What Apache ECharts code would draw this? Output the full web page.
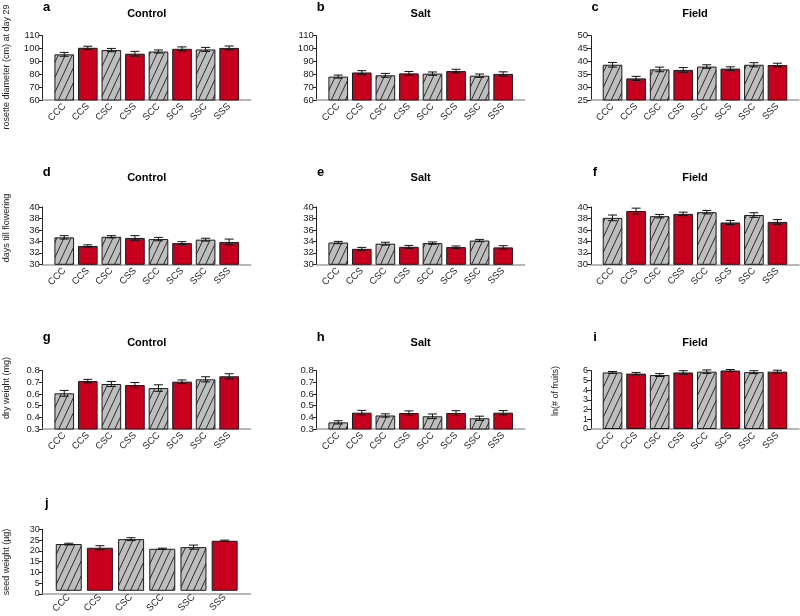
<!DOCTYPE html>
<html>
<head>
<meta charset="utf-8">
<script src="https://cdn.jsdelivr.net/npm/echarts@6/dist/echarts.min.js"></script>
<style>html,body{margin:0;padding:0;background:#fff}#c{width:800px;height:616px}</style>
</head>
<body>
<div id="c"></div>
<script>
// ---------- data ----------
const cats8 = ['CCC','CCS','CSC','CSS','SCC','SCS','SSC','SSS'];
const cats6 = ['CCC','CCS','CSC','SCC','SSC','SSS'];

const rosetteControl    = [95.5, 100.6, 98.8, 96.0, 97.7, 99.8, 99.3, 100.5];
const rosetteControlErr = [1.5, 1.2, 1.3, 1.8, 1.2, 1.5, 1.6, 1.5];
const rosetteSalt       = [78.2, 81.4, 79.2, 80.7, 80.5, 82.5, 78.9, 80.3];
const rosetteSaltErr    = [1.2, 1.4, 1.5, 1.5, 1.3, 1.4, 1.3, 1.6];
const rosetteField      = [38.7, 33.4, 36.9, 36.7, 38.0, 37.2, 38.7, 38.6];
const rosetteFieldErr   = [0.9, 0.8, 0.9, 0.9, 0.7, 0.7, 0.8, 0.7];

const flowerControl     = [34.7, 33.2, 34.8, 34.6, 34.4, 33.7, 34.3, 33.9];
const flowerControlErr  = [0.3, 0.2, 0.2, 0.4, 0.3, 0.25, 0.25, 0.5];
const flowerSalt        = [33.8, 32.7, 33.6, 33.05, 33.7, 33.0, 34.15, 32.95];
const flowerSaltErr     = [0.2, 0.25, 0.25, 0.25, 0.2, 0.2, 0.2, 0.3];
const flowerField       = [38.1, 39.3, 38.4, 38.8, 39.1, 37.3, 38.6, 37.4];
const flowerFieldErr    = [0.5, 0.5, 0.3, 0.3, 0.3, 0.35, 0.4, 0.4];

const dryControl        = [0.606, 0.711, 0.686, 0.677, 0.651, 0.706, 0.726, 0.752];
const dryControlErr     = [0.025, 0.015, 0.022, 0.022, 0.028, 0.015, 0.022, 0.022];
const drySalt           = [0.357, 0.440, 0.416, 0.437, 0.409, 0.437, 0.392, 0.440];
const drySaltErr        = [0.014, 0.020, 0.014, 0.018, 0.020, 0.020, 0.018, 0.018];
const fruitsField       = [5.82, 5.70, 5.55, 5.82, 5.90, 6.02, 5.85, 5.90];
const fruitsFieldErr    = [0.10, 0.12, 0.15, 0.18, 0.18, 0.10, 0.15, 0.15];

const seedWeight        = [22.8, 21.0, 25.2, 20.5, 21.3, 24.4];
const seedWeightErr     = [0.4, 1.0, 0.7, 0.3, 1.0, 0.3];

const yTicks = {
  rosette: {min: 60, max: 110, interval: 10},
  rosetteField: {min: 25, max: 50, interval: 5},
  flower: {min: 30, max: 40, interval: 2},
  dry: {min: 0.3, max: 0.8, interval: 0.1},
  fruits: {min: 0, max: 6, interval: 1},
  seed: {min: 0, max: 30, interval: 5}
};

const panels = [
  {letter:'a', title:'Control', ylabel:'rosette diameter (cm) at day 29', cats:cats8, vals:rosetteControl, errs:rosetteControlErr, ax:yTicks.rosette, row:0, col:0},
  {letter:'b', title:'Salt', ylabel:'', cats:cats8, vals:rosetteSalt, errs:rosetteSaltErr, ax:yTicks.rosette, row:0, col:1},
  {letter:'c', title:'Field', ylabel:'', cats:cats8, vals:rosetteField, errs:rosetteFieldErr, ax:yTicks.rosetteField, row:0, col:2},
  {letter:'d', title:'Control', ylabel:'days till flowering', cats:cats8, vals:flowerControl, errs:flowerControlErr, ax:yTicks.flower, row:1, col:0},
  {letter:'e', title:'Salt', ylabel:'', cats:cats8, vals:flowerSalt, errs:flowerSaltErr, ax:yTicks.flower, row:1, col:1},
  {letter:'f', title:'Field', ylabel:'', cats:cats8, vals:flowerField, errs:flowerFieldErr, ax:yTicks.flower, row:1, col:2},
  {letter:'g', title:'Control', ylabel:'dry weight (mg)', cats:cats8, vals:dryControl, errs:dryControlErr, ax:yTicks.dry, row:2, col:0},
  {letter:'h', title:'Salt', ylabel:'', cats:cats8, vals:drySalt, errs:drySaltErr, ax:yTicks.dry, row:2, col:1},
  {letter:'i', title:'Field', ylabel:'ln(# of fruits)', cats:cats8, vals:fruitsField, errs:fruitsFieldErr, ax:yTicks.fruits, row:2, col:2},
  {letter:'j', title:'', ylabel:'seed weight (\u00b5g)', cats:cats6, vals:seedWeight, errs:seedWeightErr, ax:yTicks.seed, row:3, col:0}
];

// ---------- layout ----------
const colLeft = [42.7, 316.7, 591];
const plotW = 208;
const rowTop = [35.7, 207, 370.7, 529.3];
const rowBottom = [100, 264.3, 429, 594];
const letterY = [7.5, 172, 337, 503];
const titleY = [14, 178, 343, 0];
const ylabelY = [67, 228, 388, 562];
const FONT = '"Liberation Sans", Arial, Helvetica, sans-serif';
const GRAY = '#bebebe';
const RED = '#c8001e';

// hatch pattern
function makeHatch() {
  const w = 7, h = 15;
  const cv = document.createElement('canvas');
  cv.width = w; cv.height = h;
  const ctx = cv.getContext('2d');
  ctx.fillStyle = GRAY; ctx.fillRect(0, 0, w, h);
  ctx.strokeStyle = '#1a1a1a'; ctx.lineWidth = 0.9;
  for (const dx of [-w, 0, w]) {
    ctx.beginPath(); ctx.moveTo(dx, h); ctx.lineTo(dx + w, 0); ctx.stroke();
  }
  return cv;
}
const hatch = makeHatch();

const grid = [], xAxis = [], yAxis = [], series = [], graphic = [];
panels.forEach((p, k) => {
  const L = colLeft[p.col], top = rowTop[p.row], bot = rowBottom[p.row];
  const n = p.cats.length;
  // R barplot x-range: [0.2, n*1.2] extended by 4%
  const lo = 0.2, hi = n * 1.2, ext = (hi - lo) * 0.04;
  const u = plotW / (hi - lo + 2 * ext);
  const inset = (ext + 0.1) * u;
  const gB = grid.length;
  grid.push({left: L, top: top, width: plotW, height: bot - top, containLabel: false});
  const gA = grid.length;
  grid.push({left: L + inset, top: top, width: plotW - 2 * inset, height: bot - top, containLabel: false});
  const dense = (bot - top) / ((p.ax.max - p.ax.min) / p.ax.interval) < 11;
  // frame axes (grid B)
  xAxis.push({type:'value', gridIndex:gB, min:0, max:1, axisLine:{show:true, onZero:false, lineStyle:{color:'#a0a0a0', width:1.5}},
    axisTick:{show:false}, axisLabel:{show:false}, splitLine:{show:false}});
  yAxis.push({type:'value', gridIndex:gB, min:p.ax.min, max:p.ax.max, interval:p.ax.interval,
    axisLine:{show:true, lineStyle:{color:'#222', width:1}}, axisTick:{show:true, length:4, lineStyle:{color:'#222'}},
    axisLabel:{fontSize: dense ? 9 : 9.5, lineHeight: dense ? 7 : 11, color:'#222', margin:3, fontFamily:FONT,
      showMinLabel:true, showMaxLabel:true, hideOverlap:false},
    splitLine:{show:false}});
  // bar axes (grid A)
  const xA = xAxis.length;
  xAxis.push({type:'category', gridIndex:gA, data:p.cats, boundaryGap:true, axisLine:{show:false}, axisTick:{show:false},
    axisLabel:{rotate:45, fontSize:9.5, color:'#222', margin:5, fontFamily:FONT, interval:0}, splitLine:{show:false}});
  const yA = yAxis.length;
  yAxis.push({type:'value', gridIndex:gA, min:p.ax.min, max:p.ax.max, interval:p.ax.interval, show:false});
  series.push({type:'bar', xAxisIndex:xA, yAxisIndex:yA, barCategoryGap:'16.67%', z:2,
    data: p.vals.map((v, i) => ({value:v, itemStyle:{color: p.cats[i].endsWith('S') ? RED : {image:hatch, repeat:'repeat'}}})),
    itemStyle:{borderColor:'#1a1a1a', borderWidth:1}});
  series.push({type:'custom', xAxisIndex:xA, yAxisIndex:yA, z:5,
    data: p.vals.map((v, i) => [i, v - p.errs[i], v + p.errs[i]]),
    encode:{x:0, y:[1,2]},
    renderItem: function(params, api) {
      const a = api.coord([api.value(0), api.value(1)]);
      const b = api.coord([api.value(0), api.value(2)]);
      const hw = 4.5, st = {stroke:'#111', lineWidth:1};
      return {type:'group', children:[
        {type:'line', shape:{x1:a[0], y1:a[1], x2:b[0], y2:b[1]}, style:st},
        {type:'line', shape:{x1:a[0]-hw, y1:a[1], x2:a[0]+hw, y2:a[1]}, style:st},
        {type:'line', shape:{x1:b[0]-hw, y1:b[1], x2:b[0]+hw, y2:b[1]}, style:st}
      ]};
    }});
  // texts
  graphic.push({type:'text', x: L + 4, y: letterY[p.row], style:{text:p.letter, font:'bold 13px ' + FONT, fill:'#000', textAlign:'center', textVerticalAlign:'middle'}});
  if (p.title) graphic.push({type:'text', x: L + plotW / 2, y: titleY[p.row], style:{text:p.title, font:'bold 11px ' + FONT, fill:'#000', textAlign:'center', textVerticalAlign:'middle'}});
  if (p.ylabel) graphic.push({type:'text', x: L - 36.5 + (p.col === 2 ? 1.5 : 0), y: ylabelY[p.row] + (p.col === 2 ? 3 : 0), rotation: Math.PI / 2,
    style:{text:p.ylabel, font:'9px ' + FONT, fill:'#222', textAlign:'center', textVerticalAlign:'middle'}});
});

const chart = echarts.init(document.getElementById('c'), null, {renderer:'canvas'});
chart.setOption({animation:false, backgroundColor:'#fff', grid, xAxis, yAxis, series, graphic});
</script>
</body>
</html>
